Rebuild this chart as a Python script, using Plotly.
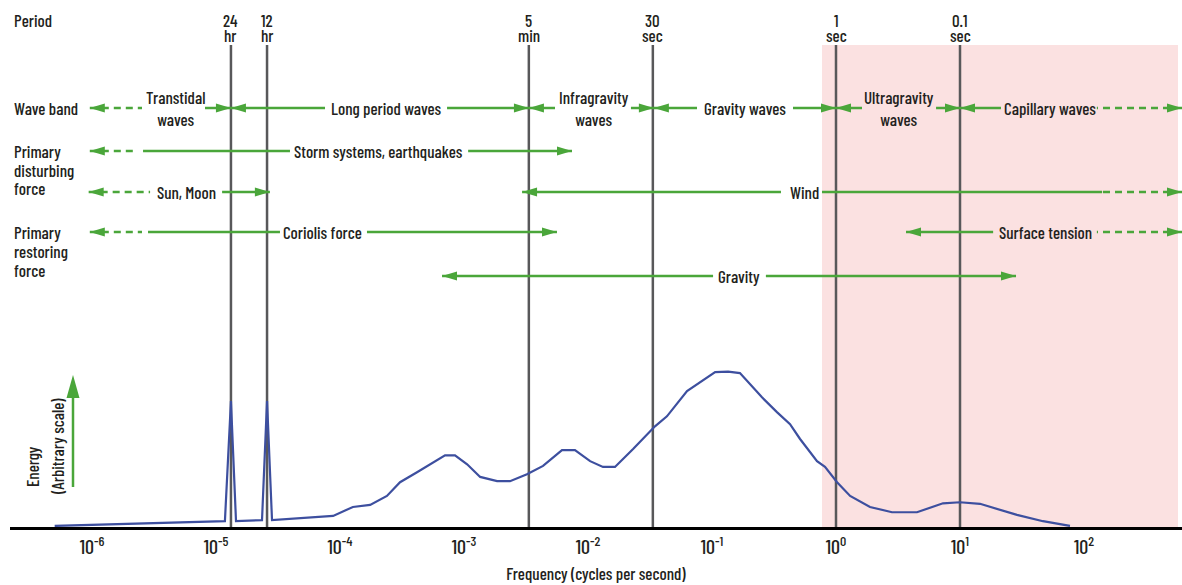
import math
import plotly.graph_objects as go

# ---- spectrum: energy (arbitrary units) against frequency (Hz) ----
freq = [5.0e-7, 1.18e-5, 1.32e-5, 1.45e-5, 2.35e-5, 2.58e-5, 2.83e-5, 8.8e-5,
        1.27e-4, 1.75e-4, 2.39e-4, 3.05e-4, 4.18e-4, 7.03e-4, 8.46e-4, 1.06e-3,
        1.35e-3, 1.85e-3, 2.35e-3, 3.22e-3, 4.34e-3, 6.17e-3, 7.85e-3, 1.04e-2,
        1.32e-2, 1.65e-2, 2.31e-2, 3.47e-2, 4.33e-2, 6.29e-2, 0.106, 0.135,
        0.168, 0.253, 0.334, 0.426, 0.513, 0.703, 0.815, 1.02, 1.30, 1.88,
        2.83, 4.50, 7.29, 10.0, 14.5, 28.8, 46.7, 77.1]
energy = [0.2, 1.1, 23.9, 1.1, 1.3, 23.9, 1.3, 2.1, 3.8, 4.2, 5.9, 8.5, 10.4,
          13.6, 13.6, 11.9, 9.5, 8.7, 8.7, 10.0, 11.6, 14.6, 14.6, 12.5, 11.4,
          11.4, 14.8, 19.1, 21.0, 25.8, 29.4, 29.5, 29.2, 24.6, 21.8, 19.5,
          16.7, 12.5, 11.4, 8.5, 5.9, 3.8, 2.8, 2.8, 4.5, 4.7, 4.4, 2.3, 1.1, 0.2]

# ---- reference periods (vertical lines) ----
period_value = ["24", "12", "5", "30", "1", "0.1"]
period_unit = ["hr", "hr", "min", "sec", "sec", "sec"]
period_freq = [1.32e-5, 2.58e-5, 1 / 300, 1 / 30, 1.0, 10.0]

# ---- tick labels ----
tick_vals = [1e-6, 1e-5, 1e-4, 1e-3, 1e-2, 1e-1, 1e0, 1e1, 1e2]
tick_text = ["10<sup>-6</sup>", "10<sup>-5</sup>", "10<sup>-4</sup>",
             "10<sup>-3</sup>", "10<sup>-2</sup>", "10<sup>-1</sup>",
             "10<sup>0</sup>", "10<sup>1</sup>", "10<sup>2</sup>"]

# ---- shaded high-frequency region ----
shade_lo = 0.771

# ---- labelled ranges: (row, text, text centre, left tip, right tip, segments) ----
# segments: (from, to, style) in Hz
band_ranges = [
    ("band", "Transtidal<br>waves", 4.67e-6, 9.6e-7, 1.32e-5,
     [(9.6e-7, 2.53e-6, "dash"), (8.15e-6, 1.32e-5, "solid")]),
    ("band", "Long period waves", 2.35e-4, 1.32e-5, 3.34e-3,
     [(1.32e-5, 7.57e-5, "solid"), (7.3e-4, 3.34e-3, "solid")]),
    ("band", "Infragravity<br>waves", 1.12e-2, 3.34e-3, 3.40e-2,
     [(3.34e-3, 5.42e-3, "solid"), (2.22e-2, 3.40e-2, "solid")]),
    ("band", "Gravity waves", 0.185, 3.40e-2, 1.0,
     [(3.40e-2, 7.57e-2, "solid"), (0.450, 1.0, "solid")]),
    ("band", "Ultragravity<br>waves", 3.22, 1.0, 10.0,
     [(1.0, 1.62, "solid"), (6.41, 10.0, "solid")]),
    ("band", "Capillary waves", 53.2, 10.0, 617.0,
     [(10.0, 21.4, "solid"), (617.0, 127.0, "dash")]),
]
force_ranges = [
    ("disturb", "Storm systems, earthquakes", 2.06e-4, 9.6e-7, 7.43e-3,
     [(9.6e-7, 2.31e-6, "dash"), (2.58e-6, 3.95e-5, "solid"),
      (1.08e-3, 7.43e-3, "solid")]),
    ("sun", "Sun, Moon", 5.73e-6, 9.4e-7, 2.72e-5,
     [(9.4e-7, 2.94e-6, "dash"), (1.12e-5, 2.72e-5, "solid")]),
    ("sun", "Wind", 0.562, 2.94e-3, 617.0,
     [(2.94e-3, 0.360, "solid"), (0.771, 140.0, "solid"),
      (617.0, 140.0, "dash")]),
    ("restore", "Coriolis force", 7.16e-5, 9.6e-7, 5.62e-3,
     [(9.6e-7, 2.53e-6, "dash"), (2.83e-6, 3.28e-5, "solid"),
      (1.65e-4, 5.62e-3, "solid")]),
    ("restore", "Surface tension", 48.5, 3.67, 617.0,
     [(3.67, 18.5, "solid"), (617.0, 127.0, "dash")]),
    ("gravity", "Gravity", 0.165, 6.65e-4, 28.3,
     [(6.65e-4, 0.102, "solid"), (0.272, 28.3, "solid")]),
]

# ---- styling ----
FONT = "Barlow Condensed, Archivo Narrow, sans-serif"
WEIGHT = 500
TEXT = "#231f20"
GREEN = "#4aa63a"
BLUE = "#3d4f9f"
GREY = "#58585a"
PINK = "#fbe1e1"

W, H = 1182, 585
M_L, M_R, M_T, M_B = 10, 0, 0, 58
PLOT_H = H - M_T - M_B
PLOT_W = W - M_L - M_R
DECADE = 124.0      # horizontal size of one decade
X_ONE = 836         # where 1 Hz sits
x_range = [(M_L - X_ONE) / DECADE, (W - M_R - X_ONE) / DECADE]


def py(px):
    """Vertical page position (px from top) -> paper fraction."""
    return (H - M_B - px) / PLOT_H


def pxx(px):
    """Horizontal page position -> paper fraction."""
    return (px - M_L) / PLOT_W


def font(size=17):
    return dict(size=size, color=TEXT, family=FONT, weight=WEIGHT)


ROW = {"band": 108, "disturb": 151, "sun": 192, "restore": 232, "gravity": 276}
LINE_TOP = py(45)

fig = go.Figure()
fig.add_trace(go.Scatter(x=freq, y=energy, mode="lines",
                         line=dict(color=BLUE, width=2.2), hoverinfo="skip",
                         showlegend=False))

shapes = []
annotations = []

# shaded band
shapes.append(dict(type="rect", xref="x", yref="paper", x0=shade_lo,
                   x1=10 ** ((W - 4 - X_ONE) / DECADE), y0=0, y1=LINE_TOP,
                   fillcolor=PINK, line=dict(width=0), layer="below"))

# period lines and their labels
for v, u, f in zip(period_value, period_unit, period_freq):
    shapes.append(dict(type="line", xref="x", yref="paper", x0=f, x1=f,
                       y0=0, y1=LINE_TOP, line=dict(color=GREY, width=2.5),
                       layer="below"))
    annotations.append(dict(x=math.log10(f), y=py(20), xref="x", yref="paper",
                            text=v, showarrow=False, yanchor="middle",
                            xanchor="center", font=font()))
    annotations.append(dict(x=math.log10(f), y=py(35), xref="x", yref="paper",
                            text=u, showarrow=False, yanchor="middle",
                            xanchor="center", font=font()))

HEAD_L = "M0,0 L15,4.5 L15,-4.5 Z"
HEAD_R = "M0,0 L-15,4.5 L-15,-4.5 Z"

for row, label, centre, lo, hi, segs in band_ranges + force_ranges:
    yp = py(ROW[row])
    for a, b, style in segs:
        shapes.append(dict(type="line", xref="x", yref="paper", x0=a, x1=b,
                           y0=yp, y1=yp, layer="below",
                           line=dict(color=GREEN, width=2.5,
                                     dash="7px,5px" if style == "dash" else "solid")))
    for tip, path in ((lo, HEAD_L), (hi, HEAD_R)):
        shapes.append(dict(type="path", xref="x", yref="paper",
                           xsizemode="pixel", ysizemode="pixel",
                           xanchor=tip, yanchor=yp, path=path,
                           fillcolor=GREEN, line=dict(width=0), layer="below"))
    annotations.append(dict(x=math.log10(centre), y=yp, xref="x", yref="paper",
                            text=label, showarrow=False, yanchor="middle",
                            xanchor="center", font=font()))

# row headings on the left
left_labels = [("Period", 20), ("Wave band", 108),
               ("Primary", 151), ("disturbing", 170), ("force", 188),
               ("Primary", 232), ("restoring", 251), ("force", 270)]
for txt, ypx in left_labels:
    annotations.append(dict(x=pxx(12), y=py(ypx), xref="paper", yref="paper",
                            text=txt, showarrow=False, xanchor="left",
                            yanchor="middle", font=font()))

# energy direction arrow
shapes.append(dict(type="line", xref="paper", yref="paper", x0=pxx(73),
                   x1=pxx(73), y0=py(487), y1=py(396),
                   line=dict(color=GREEN, width=2.5)))
shapes.append(dict(type="path", xref="paper", yref="paper",
                   xsizemode="pixel", ysizemode="pixel",
                   xanchor=pxx(73), yanchor=py(375),
                   path="M0,0 L-6.5,-23 L6.5,-23 Z",
                   fillcolor=GREEN, line=dict(width=0)))
annotations.append(dict(x=pxx(32), y=py(467), xref="paper", yref="paper",
                        text="Energy", showarrow=False, textangle=-90,
                        xanchor="center", yanchor="middle", font=font()))
annotations.append(dict(x=pxx(57), y=py(447), xref="paper", yref="paper",
                        text="(Arbitrary scale)", showarrow=False, textangle=-90,
                        xanchor="center", yanchor="middle", font=font()))

fig.update_layout(
    width=W, height=H,
    margin=dict(l=M_L, r=M_R, t=M_T, b=M_B),
    paper_bgcolor="white", plot_bgcolor="white",
    shapes=shapes, annotations=annotations,
    xaxis=dict(type="log", range=x_range, showgrid=False, zeroline=False,
               showline=True, linecolor="black", linewidth=3,
               tickvals=tick_vals, ticktext=tick_text, ticks="",
               tickfont=font(20),
               title=dict(text="Frequency (cycles per second)", standoff=12,
                          font=font())),
    yaxis=dict(range=[0, 100], visible=False, fixedrange=True),
    showlegend=False,
)

fig.write_html("out.html")
